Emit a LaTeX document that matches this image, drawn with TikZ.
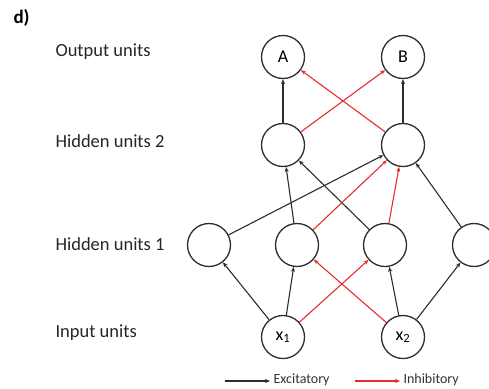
\documentclass[tikz,border=0pt]{standalone}
\usepackage{fontspec}
\setmainfont{Carlito}
\usetikzlibrary{arrows.meta}
\definecolor{inhred}{RGB}{232,45,45}
\definecolor{exc}{RGB}{45,45,45}
\tikzset{
  unit/.style={circle, draw=exc, line width=1.3pt, minimum size=43pt, inner sep=0pt, font=\fontsize{18}{21}\selectfont},
  lbl/.style={anchor=west, font=\fontsize{18.5}{22}\selectfont, text=black!85},
  ex/.style={draw=exc, line width=1.1pt, -{Stealth[length=5pt,width=4pt]}},
  inh/.style={draw=inhred, line width=1.1pt, -{Stealth[length=5pt,width=4pt]}, color=inhred},
  leg/.style={anchor=west, font=\fontsize{14}{16}\selectfont, text=black!80}
}
\begin{document}
\begin{tikzpicture}[x=1pt,y=-1pt]
\useasboundingbox (0,0) rectangle (489,388);
\clip (0,0) rectangle (489,388);
\fill[white] (0,0) rectangle (489,388);
% labels
\node[anchor=west, font=\bfseries\fontsize{19}{22}\selectfont] (d) at (10,18) {d)};
\node[lbl] (lo) at (52,52) {Output units};
\node[lbl] (lh2) at (52,141) {Hidden units 2};
\node[lbl] (lh1) at (52,244) {Hidden units 1};
\node[lbl] (li) at (52,333) {Input units};
% units
\node[unit] (A) at (283,57) {A};
\node[unit] (B) at (403,57) {B};
\node[unit] (H2a) at (283,145) {};
\node[unit] (H2b) at (403,145) {};
\node[unit] (H1a) at (209,245) {};
\node[unit] (H1b) at (297,245) {};
\node[unit] (H1c) at (385,245) {};
\node[unit] (H1d) at (474,245) {};
\node[unit] (X1) at (283,337) {x\textsubscript{1}};
\node[unit] (X2) at (403,337) {x\textsubscript{2}};
% excitatory
\draw[ex] (H2a) -- (A);
\draw[ex] (H2b) -- (B);
\draw[ex] (H1a) -- (H2b);
\draw[ex] (H1b) -- (H2a);
\draw[ex] (H1c) -- (H2a);
\draw[ex] (H1d) -- (H2b);
\draw[ex] (X1) -- (H1a);
\draw[ex] (X1) -- (H1b);
\draw[ex] (X2) -- (H1c);
\draw[ex] (X2) -- (H1d);
% inhibitory
\draw[inh] (H2a) -- (B);
\draw[inh] (H2b) -- (A);
\draw[inh] (H1b) -- (H2b);
\draw[inh] (H1c) -- (H2b);
\draw[inh] (X1) -- (H1c);
\draw[inh] (X2) -- (H1b);
% legend
\coordinate (e1) at (225,381);
\coordinate (e2) at (270,381);
\coordinate (i1) at (355,381);
\coordinate (i2) at (400,381);
\draw[ex] (e1) -- (e2);
\node[leg] (et) at (270,380) {Excitatory};
\draw[inh] (i1) -- (i2);
\node[leg] (it) at (400,380) {Inhibitory};
\end{tikzpicture}
\end{document}
